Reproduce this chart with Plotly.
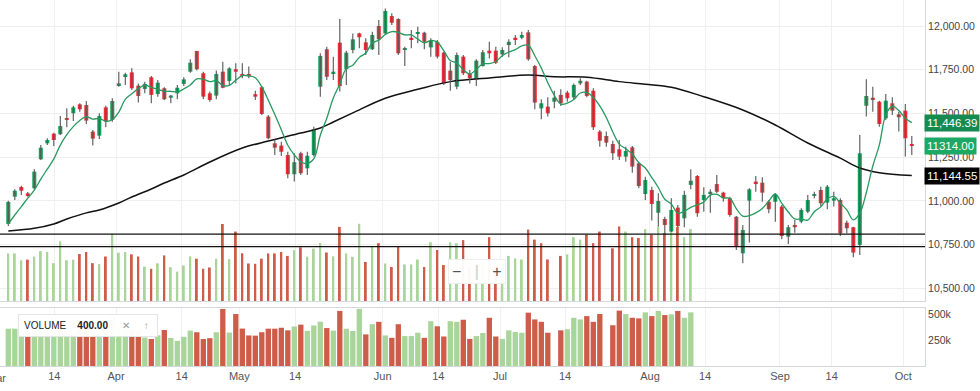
import plotly.graph_objects as go
import pandas as pd

# ---------------- data ----------------
opens = [10868, 11024, 11079, 11043, 11072, 11238, 11329, 11384, 11381, 11474,
         11501, 11552, 11548, 11396, 11373, 11535, 11463, 11661, 11714, 11735,
         11659, 11640, 11707, 11611, 11644, 11590, 11615, 11669, 11739, 11857,
         11730, 11615, 11602, 11739, 11686, 11753, 11726, 11726, 11610, 11650,
         11482, 11329, 11316, 11262, 11152, 11272, 11186, 11262, 11653, 11867,
         11730, 11905, 11753, 11863, 11958, 11907, 11867, 12000, 11958, 12057,
         12040, 11863, 11933, 11958, 11962, 11878, 11910, 11848, 11745, 11653,
         11825, 11726, 11695, 11771, 11859, 11859, 11838, 11891, 11933, 11933,
         11964, 11771, 11529, 11539, 11567, 11606, 11619, 11592, 11672, 11682,
         11630, 11396, 11371, 11325, 11295, 11253, 11306, 11215, 11039, 11062,
         10932, 10896, 10824, 10961, 10900, 11091, 11142, 11005, 11039, 11096,
         11047, 11015, 10909, 10700, 11001, 11110, 11104, 10995, 10995, 10967,
         10795, 10862, 10881, 10938, 11028, 11062, 10990, 11001, 11005, 10875,
         10849, 10748, 11544, 11590, 11567, 11472, 11558, 11495, 11516, 11325]
highs = [11000, 11066, 11087, 11051, 11181, 11320, 11358, 11390, 11485, 11529,
         11544, 11558, 11571, 11405, 11501, 11544, 11587, 11739, 11733, 11758,
         11672, 11682, 11714, 11691, 11650, 11606, 11663, 11707, 11810, 11859,
         11739, 11625, 11745, 11796, 11764, 11787, 11787, 11768, 11630, 11657,
         11491, 11352, 11338, 11281, 11272, 11281, 11281, 11424, 11844, 11882,
         11825, 12040, 11859, 11958, 11962, 11930, 11968, 12035, 12101, 12073,
         12044, 11882, 11977, 11996, 11968, 11930, 11920, 11853, 11796, 11848,
         11834, 11749, 11810, 11863, 11910, 11882, 11878, 11924, 11949, 11968,
         11977, 11777, 11581, 11592, 11630, 11638, 11630, 11672, 11701, 11687,
         11644, 11405, 11396, 11344, 11348, 11310, 11314, 11224, 11138, 11081,
         11043, 10909, 11015, 10976, 11058, 11181, 11148, 11078, 11066, 11148,
         11052, 11024, 10913, 10862, 11072, 11142, 11135, 11005, 11045, 10976,
         10862, 10891, 10958, 11034, 11052, 11081, 11091, 11052, 11015, 10887,
         10852, 11377, 11695, 11653, 11573, 11611, 11592, 11510, 11554, 11371]
lows = [10856, 11005, 11034, 11024, 11066, 11234, 11320, 11314, 11377, 11421,
        11457, 11510, 11440, 11316, 11354, 11421, 11453, 11653, 11663, 11634,
        11562, 11615, 11558, 11596, 11577, 11558, 11581, 11657, 11733, 11745,
        11581, 11567, 11581, 11644, 11663, 11672, 11701, 11701, 11577, 11491,
        11352, 11262, 11257, 11129, 11110, 11148, 11148, 11253, 11596, 11691,
        11691, 11625, 11663, 11844, 11873, 11834, 11863, 11834, 11949, 12006,
        11834, 11771, 11873, 11901, 11867, 11825, 11815, 11663, 11630, 11638,
        11720, 11672, 11657, 11768, 11815, 11783, 11825, 11821, 11891, 11924,
        11802, 11524, 11467, 11482, 11529, 11543, 11567, 11581, 11663, 11592,
        11405, 11310, 11310, 11234, 11234, 11224, 11161, 11072, 11005, 10887,
        10852, 10795, 10805, 10843, 10849, 11066, 10909, 10938, 10932, 11043,
        10995, 10909, 10719, 10643, 10761, 11052, 10995, 10929, 10881, 10780,
        10753, 10818, 10872, 10929, 11015, 10967, 10952, 10967, 10799, 10815,
        10677, 10690, 11482, 11510, 11424, 11463, 11491, 11396, 11253, 11262]
closes = [10994, 11058, 11058, 11032, 11167, 11304, 11348, 11348, 11428, 11463,
          11535, 11524, 11459, 11356, 11485, 11453, 11571, 11672, 11724, 11644,
          11600, 11669, 11606, 11676, 11581, 11602, 11647, 11695, 11790, 11753,
          11596, 11577, 11726, 11647, 11758, 11739, 11714, 11714, 11596, 11497,
          11358, 11304, 11281, 11152, 11221, 11158, 11258, 11409, 11829, 11710,
          11739, 11657, 11848, 11924, 11936, 11863, 11949, 11924, 12086, 12019,
          11844, 11873, 11924, 11966, 11910, 11916, 11825, 11672, 11691, 11834,
          11730, 11701, 11802, 11850, 11844, 11790, 11863, 11910, 11920, 11949,
          11810, 11562, 11558, 11501, 11590, 11558, 11587, 11663, 11687, 11600,
          11421, 11344, 11333, 11272, 11253, 11285, 11196, 11085, 11119, 10982,
          10999, 10862, 10948, 10856, 11034, 11115, 10929, 11034, 11052, 11052,
          11015, 10919, 10742, 10833, 11066, 11096, 11047, 10952, 11034, 10799,
          10849, 10849, 10948, 11005, 11039, 10986, 11081, 11015, 10814, 10843,
          10704, 11272, 11600, 11577, 11440, 11573, 11516, 11478, 11358, 11314]

volumes = [359000, 359000, 315000, 319000, 339000, 374000, 368000, 296000, 437000, 315000,
           319000, 355000, 368000, 296000, 290000, 339000, 486000, 364000, 368000, 353000,
           339000, 274000, 260000, 295000, 346000, 270000, 242000, 281000, 340000, 325000,
           260000, 268000, 325000, 549000, 322000, 500000, 360000, 294000, 292000, 325000,
           359000, 359000, 368000, 343000, 380000, 398000, 338000, 390000, 426000, 365000,
           340000, 530000, 359000, 337000, 550000, 304000, 402000, 425000, 294000, 271000,
           402000, 288000, 288000, 320000, 271000, 431000, 382000, 284000, 431000, 425000,
           445000, 261000, 288000, 317000, 464000, 284000, 261000, 343000, 327000, 320000,
           513000, 448000, 425000, 320000, None, 343000, 353000, 464000, 448000, 480000,
           425000, 500000, None, 392000, 533000, 500000, 464000, 458000, 516000, 480000,
           529000, 490000, 497000, 529000, 464000, 516000]
volume_dir = ["u", "u", "u", "d", "u", "u", "u", "u", "u", "u",
              "u", "d", "d", "d", "u", "d", "u", "u", "u", "d",
              "d", "u", "d", "u", "d", "u", "u", "u", "u", "d",
              "d", "d", "u", "d", "u", "d", "d", "d", "d", "d",
              "d", "d", "d", "d", "u", "d", "u", "u", "u", "d",
              "u", "d", "u", "u", "u", "d", "u", "d", "u", "d",
              "d", "u", "u", "u", "d", "u", "d", "d", "u", "u",
              "d", "d", "u", "u", "d", "d", "u", "u", "u", "u",
              "d", "d", "d", "d", "d", "d", "u", "u", "u", "d",
              "d", "d", "d", "d", "d", "u", "d", "d", "u", "d",
              "u", "d", "u", "d", "u", "u"]

# fast (5-period) average: first values, rest from closes
ma_fast_head = [10868, 10919, 10967, 11015]
# slow average at these candle positions
ma_slow_idx = [0, 4, 7, 9, 12, 14, 17, 19, 22, 24, 27, 31, 36, 40, 45, 48, 50, 53, 58,
               63, 68, 74, 80, 84, 89, 94, 98, 102, 107, 113, 118, 123, 128, 131, 134, 139]
ma_slow_vals = [10828, 10843, 10868, 10896, 10931, 10948, 10988, 11022, 11068, 11102,
                11148, 11222, 11302, 11342, 11388, 11417, 11451, 11503, 11587, 11638,
                11682, 11703, 11720, 11710, 11707, 11682, 11667, 11650, 11596, 11520,
                11434, 11331, 11244, 11188, 11161, 11145]

level_lines = [10810, 10738]
price_ticks = [10500, 10750, 11000, 11250, 11500, 11750, 12000]
tick_pos = [7.08, 16.57, 26.68, 35.54, 44.11, 57.6, 66.15, 75.65, 85.65, 98.72,
            107.2, 118.72, 126.68, 137.69]
tick_text = ["14", "Apr", "14", "May", "14", "Jun", "14", "Jul", "14", "Aug",
             "14", "Sep", "14", "Oct"]
last_fast_label = 11446.39
last_close_label = 11314.00
last_slow_label = 11144.55

# ---------------- styling ----------------
UP = "#14a05b"
DOWN = "#ee3138"
VUP = "#a9d59b"
VDOWN = "#cd5c49"
FONT = "Liberation Sans, Arial, sans-serif"

n = len(closes)
idx = list(range(n))
vol_x = list(range(len(volumes)))
vol_colors = [VUP if d == "u" else VDOWN for d in volume_dir]

ma_fast = pd.Series(closes).rolling(5).mean().tolist()
ma_fast[:len(ma_fast_head)] = ma_fast_head

wick_x, wick_y = [], []
for i in idx:
    wick_x += [i, i, None]
    wick_y += [lows[i], highs[i], None]

body_base = [min(o, c) for o, c in zip(opens, closes)]
body_h = [max(abs(c - o), 6) for o, c in zip(opens, closes)]
body_col = [UP if c >= o else DOWN for o, c in zip(opens, closes)]

fig = go.Figure()

# volume overlay on price pane
fig.add_trace(go.Bar(x=vol_x, y=volumes, marker=dict(color=vol_colors, line=dict(width=0)),
                     width=0.3, xaxis="x", yaxis="y3", hoverinfo="skip", showlegend=False))
# slow average
fig.add_trace(go.Scatter(x=ma_slow_idx, y=ma_slow_vals, mode="lines",
                         line=dict(color="#111111", width=1.5, shape="spline"),
                         xaxis="x", yaxis="y", hoverinfo="skip", showlegend=False))
# wicks
fig.add_trace(go.Scatter(x=wick_x, y=wick_y, mode="lines",
                         line=dict(color="#555555", width=1.1),
                         xaxis="x", yaxis="y", hoverinfo="skip", showlegend=False))
# bodies
fig.add_trace(go.Bar(x=idx, y=body_h, base=body_base,
                     marker=dict(color=body_col, line=dict(width=0)),
                     width=0.62, xaxis="x", yaxis="y", hoverinfo="skip", showlegend=False))
# fast average
fig.add_trace(go.Scatter(x=idx, y=ma_fast, mode="lines",
                         line=dict(color="#27995f", width=1.3, shape="spline"),
                         xaxis="x", yaxis="y", hoverinfo="skip", showlegend=False))
# volume pane
fig.add_trace(go.Bar(x=vol_x, y=volumes, marker=dict(color=vol_colors, line=dict(width=0)),
                     width=0.82, xaxis="x2", yaxis="y2", hoverinfo="skip", showlegend=False))

XR = [-1.277, 141.03]
AX = "#d4d7dc"
GRID = "#eeeeee"

shapes = [dict(type="line", xref="paper", x0=0, x1=1, yref="y", y0=v, y1=v,
               line=dict(color="#111111", width=1.3)) for v in level_lines]

H_PLOT = 366.0
W_PLOT = 925.0


def py(pix):
    return (H_PLOT - pix) / H_PLOT


annotations = [
    dict(xref="paper", yref="y", x=1, y=last_fast_label, xanchor="left", yanchor="middle",
         xshift=-1, text=f"{last_fast_label:,.2f}", showarrow=False,
         font=dict(color="white", size=11.5, family=FONT), bgcolor="#178a51", borderpad=2),
    dict(xref="paper", yref="y", x=1, y=last_close_label, xanchor="left", yanchor="middle",
         xshift=-1, text=f"{last_close_label:.2f}", showarrow=False,
         font=dict(color="white", size=11.5, family=FONT), bgcolor="#1ea865", borderpad=2),
    dict(xref="paper", yref="y", x=1, y=last_slow_label, xanchor="left", yanchor="middle",
         xshift=-1, text=f"{last_slow_label:,.2f}", showarrow=False,
         font=dict(color="white", size=11.5, family=FONT), bgcolor="#000000", borderpad=2),
    dict(xref="paper", yref="paper", x=18 / W_PLOT, y=py(325), xanchor="left", yanchor="middle",
         text="VOLUME&nbsp;&nbsp;&nbsp;&nbsp;<b>400.00</b>&nbsp;&nbsp;&nbsp;&nbsp;&nbsp;"
              "<span style='color:#9a9a9a'>✕</span>&nbsp;&nbsp;&nbsp;&nbsp;&nbsp;"
              "<span style='color:#9a9a9a'>↑</span>&nbsp;",
         showarrow=False, font=dict(color="#222222", size=10, family=FONT),
         bgcolor="rgba(255,255,255,0.97)", bordercolor="#e4e4e4", borderwidth=1, borderpad=5),
    dict(xref="paper", yref="paper", x=477.5 / W_PLOT, y=py(271), xanchor="center", yanchor="middle",
         text="−&nbsp;&nbsp;&nbsp;<span style='color:#cccccc'>|</span>&nbsp;&nbsp;&nbsp;+",
         showarrow=False, font=dict(color="#555555", size=16, family=FONT),
         bgcolor="rgba(255,255,255,0.96)", bordercolor="#eeeeee", borderwidth=1, borderpad=3),
    dict(xref="paper", yref="paper", x=-4 / W_PLOT, y=py(378), xanchor="center", yanchor="middle",
         text="Mar", showarrow=False, font=dict(color="#555555", size=11, family=FONT)),
]

fig.update_layout(
    width=980, height=391,
    margin=dict(l=0, r=55, t=0, b=25),
    paper_bgcolor="white", plot_bgcolor="white",
    font=dict(family=FONT, size=11, color="#444444"),
    barmode="overlay",
    showlegend=False,
    xaxis=dict(domain=[0, 1], range=XR, anchor="y", tickvals=tick_pos, showticklabels=False,
               showgrid=True, gridcolor="#f0f0f0", showline=True, linecolor=AX,
               zeroline=False, ticks=""),
    yaxis=dict(domain=[(H_PLOT - 301) / H_PLOT, 1], range=[10427, 12149], anchor="x",
               side="right", tickvals=price_ticks, tickformat=",.2f",
               showgrid=True, gridcolor=GRID, showline=True, linecolor=AX, zeroline=False,
               ticks="", tickfont=dict(size=10.5, color="#444444")),
    yaxis3=dict(overlaying="y", range=[52000, 1994000], visible=False, anchor="x"),
    xaxis2=dict(domain=[0, 1], range=XR, anchor="y2", tickvals=tick_pos, ticktext=tick_text,
                showgrid=True, gridcolor="#f0f0f0", showline=True, mirror=True, linecolor=AX,
                zeroline=False, ticks="", tickfont=dict(size=11, color="#555555")),
    yaxis2=dict(domain=[0, (H_PLOT - 308) / H_PLOT], range=[0, 558000], anchor="x2",
                side="right", tickvals=[250000, 500000], ticktext=["250k", "500k"],
                showgrid=False, showline=True, linecolor=AX, zeroline=False, ticks="",
                tickfont=dict(size=10.5, color="#444444")),
    shapes=shapes,
    annotations=annotations,
)

fig.write_html(
    "out.html",
    config={"displayModeBar": False},
    post_script="document.body.style.margin='0';document.body.style.overflow='hidden';",
)
